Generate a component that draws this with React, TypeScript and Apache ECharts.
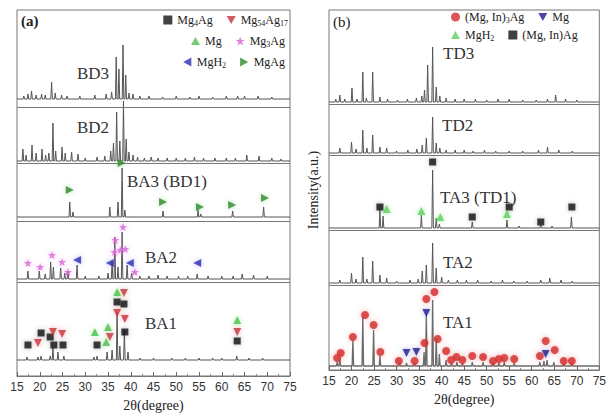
import React, { useEffect, useRef } from "react";
import * as echarts from "echarts";

// ---------- DATA (2θ in degrees, peak intensity in arbitrary units) ----------
const leftTraceNames = ["BD3", "BD2", "BA3 (BD1)", "BA2", "BA1"];
const rightTraceNames = ["TD3", "TD2", "TA3 (TD1)", "TA2", "TA1"];

const bd3Peaks = [[16.5,3],[17.4,5],[18.2,8],[19.2,4],[20.4,5],[21.2,4],[22.6,17],[23.4,6],[24.8,4],[26,3],[28.8,3],[32.1,4],[34.6,5],[35.8,7],[36.8,42],[37.4,30],[38.3,54],[38.9,24],[39.6,6],[40.5,5],[42,3],[44,3],[47,2],[50,3],[53,2],[55,3],[58,2],[61,3],[63.5,3],[65,3],[68,3],[71,2]];
const bd2Peaks = [[16.3,12],[17.0,6],[18.3,16],[19.2,8],[20.5,12],[21.3,6],[22.0,8],[22.9,38],[23.5,10],[24.9,14],[25.6,8],[27.0,9],[28.4,7],[30.0,3],[32.6,4],[34.3,5],[35.6,10],[36.2,18],[36.9,49],[37.6,20],[38.4,60],[39.0,22],[39.6,9],[40.5,6],[41.5,4],[43,3],[44.5,4],[46,3],[48,3],[50,3],[52,3],[54,4],[56,3],[58.5,3],[61,3],[63,3],[65.5,6],[68.2,5],[71,3],[73,2]];
const ba3Peaks = [[26.6,15],[27.3,5],[35.4,10],[37.2,15],[38.1,49],[38.7,7],[47.1,6],[54.8,7],[55.4,3],[62.4,6],[69.2,10]];
const ba2Peaks = [[17.4,8],[19.9,8],[21.2,5],[22.4,17],[23.0,12],[24.6,11],[25.5,6],[26.2,8],[28.2,14],[30,3],[33,3],[35.0,6],[35.9,17],[36.5,42],[37.2,12],[38.1,47],[39.2,14],[40.2,6],[42,3],[44,3],[46,4],[48,3],[50.5,3],[52.5,3],[54.6,5],[57,3],[60,3],[62.5,3],[64.5,5],[67,4],[70,3]];
const ba1Peaks = [[17.2,3],[19.6,3],[20.3,4],[22.3,4],[22.9,12],[24.0,8],[25.3,4],[31.9,3],[32.6,4],[34.8,8],[35.9,10],[37.0,48],[37.6,14],[38.6,30],[39.4,8],[42,2],[45,2],[49,2],[52,2],[55,2],[58,2],[60,2],[63.3,4],[66,2],[69,2]];

const td3Peaks = [[16.5,3],[17.4,7],[18.5,3],[20.1,14],[21.2,3],[22.5,30],[23.3,4],[24.7,30],[26.3,5],[28,3],[30.2,2],[32.4,3],[34.4,4],[35.6,6],[36.2,12],[36.9,37],[38.0,55],[38.8,15],[39.6,6],[41,4],[43,3],[45,3],[47.5,3],[50,2],[52.5,3],[55,3],[58,2],[61,2],[63.5,3],[65.3,7],[67.5,3],[70,2]];
const td2Peaks = [[17.4,5],[20.0,11],[21.0,4],[22.5,23],[23.4,5],[24.7,18],[26.3,6],[27.8,5],[30,2],[32.5,3],[34.5,4],[35.7,8],[36.6,15],[38.0,36],[38.8,10],[39.6,5],[41,3],[43,3],[45,3],[47,2],[49.5,3],[52,2],[55,2],[58,2],[61.5,3],[63.5,6],[66,3],[69,2]];
const ta3Peaks = [[26.3,18],[27.0,12],[35.5,13],[38.0,58],[38.8,10],[39.5,4],[46.8,6],[54.5,8],[57.2,2],[62.0,3],[64.5,2],[68.8,11]];
const ta2Peaks = [[17.4,3],[20.0,10],[21.0,4],[22.5,26],[23.4,4],[24.7,22],[26.3,8],[27.8,5],[30,2],[33,3],[34.8,4],[35.7,12],[36.6,18],[38.0,40],[38.8,15],[40.0,6],[41.5,3],[43.5,3],[45.5,3],[48,3],[51,2],[53.5,3],[56,2],[59,2],[62,3],[64,5],[66.5,3],[69,2]];
const ta1Peaks = [[16.8,4],[17.4,8],[20.3,26],[22.5,50],[24.9,36],[26.3,10],[30.7,3],[32.2,3],[34.0,3],[36.1,14],[36.6,52],[38.0,66],[38.8,28],[39.5,12],[41.0,6],[42.2,3],[43.4,4],[44.6,3],[46.8,4],[49.2,4],[51.4,3],[52.7,3],[53.9,4],[56.1,3],[61.8,4],[62.7,5],[63.4,6],[64.9,4],[67.1,3],[68.9,3]];

// phase markers: [2θ, height above the trace baseline]
const ba1Mg4Ag = [[17.4,15],[20.3,27],[22.3,23],[23.1,15],[25.1,15],[32.6,15],[37.0,58],[38.5,56],[38.7,28],[63.4,19]];
const ba1Mg54Ag17 = [[19.6,17],[22.9,28],[24.9,26],[35.4,23],[37.0,47],[38.5,67],[38.7,41],[63.4,28]];
const ba1Mg = [[32.1,28],[34.6,18],[35.0,33],[37.0,68],[63.4,40]];
const ba2Mg3Ag = [[17.4,16],[20.1,12],[22.7,24],[24.9,17],[26.2,7],[36.4,27],[36.6,39],[37.7,29],[38.3,52],[38.8,30],[40.9,7]];
const ba2MgH2 = [[28.2,19],[35.4,16],[39.8,16],[54.6,16]];
const ba3MgAg = [[26.6,27],[38.0,54],[47.1,15],[55.2,10],[62.3,12],[69.5,19]];

const ta1MgIn3Ag = [[16.8,8],[17.6,13],[20.3,29],[23.0,51],[24.9,41],[26.4,14],[30.5,5],[34.0,5],[36.2,23],[36.6,67],[38.4,74],[39.1,27],[41.0,15],[42.1,6],[43.3,9],[44.6,6],[46.8,10],[49.2,9],[51.4,5],[52.7,7],[53.9,8],[56.1,7],[61.8,10],[63.1,25],[65.1,16],[67.1,5],[68.9,5]];
const ta1Mg = [[32.2,13],[34.4,14],[36.6,53],[63.1,12]];
const ta3MgH2 = [[27.8,19],[35.5,17],[39.7,11],[54.5,14]];
const ta3MgInAg = [[26.3,21],[38.0,66],[46.8,11],[55.0,21],[62.0,6],[68.9,21]];

const xTicks = [15, 75, 5]; // min, max, interval

// ---------- LAYOUT ----------
const leftOffsets = [277, 215, 159, 97, 16];
const leftSeps = [269, 213, 155, 94];
const rightOffsets = [268, 217, 142, 87, 4];
const rightSeps = [266, 215, 140, 85];

function spectrum(peaks: number[][], offset: number) {
  const pts: number[][] = [[xTicks[0], offset]];
  const sorted = [...peaks].sort((a, b) => a[0] - b[0]);
  for (const [x, h] of sorted) {
    pts.push([x - 0.17, offset], [x, offset + h], [x + 0.17, offset]);
  }
  pts.push([xTicks[1], offset]);
  return pts;
}
const shift = (m: number[][], offset: number) => m.map(([x, h]) => [x, offset + h]);

const SERIF = "Liberation Serif";

const legendMap: Record<string, string> = {
  "Mg4Ag": "Mg{s|4}Ag",
  "Mg54Ag17": "Mg{s|54}Ag{s|17}",
  "Mg": "Mg",
  "Mg3Ag": "Mg{s|3}Ag",
  "MgH2": "MgH{s|2}",
  "MgAg": "MgAg",
  "(Mg, In)3Ag": "(Mg, In){s|3}Ag",
  "Mg ": "Mg",
  "MgH2 ": "MgH{s|2}",
  "(Mg, In)Ag": "(Mg, In)Ag",
};

const DOWN = "path://M0,0 L10,0 L5,9 Z";
const UP = "path://M5,0 L10,9 L0,9 Z";
const LEFT = "path://M9,0 L9,10 L0,5 Z";
const RIGHT = "path://M0,0 L0,10 L9,5 Z";
const STAR = "path://M5,0 L6.2,3.6 L10,3.8 L7,6.1 L8.1,10 L5,7.8 L1.9,10 L3,6.1 L0,3.8 L3.8,3.6 Z";

function scatter(name: string, data: number[][], axis: number, symbol: string, color: string, glow: string, size = 8) {
  return {
    type: "scatter",
    name,
    xAxisIndex: axis,
    yAxisIndex: axis,
    symbol,
    symbolSize: size,
    data,
    z: 5,
    itemStyle: { color, shadowBlur: 5, shadowColor: glow },
  };
}

export default function App() {
  const ref = useRef<HTMLDivElement>(null);
  useEffect(() => {
    if (!ref.current) return;
    const chart = echarts.init(ref.current, null, { renderer: "svg" });
    const leftPeaks = [bd3Peaks, bd2Peaks, ba3Peaks, ba2Peaks, ba1Peaks];
    const rightPeaks = [td3Peaks, td2Peaks, ta3Peaks, ta2Peaks, ta1Peaks];
    const lineSeries: any[] = [];
    leftPeaks.forEach((p, i) => {
      lineSeries.push({
        type: "line", name: leftTraceNames[i], xAxisIndex: 0, yAxisIndex: 0,
        data: spectrum(p, leftOffsets[i]), showSymbol: false, symbol: "none",
        lineStyle: { color: "#555", width: 1 },
        ...(i === 0 ? { markLine: { silent: true, symbol: "none", label: { show: false }, lineStyle: { color: "#777", width: 1, type: "solid" }, data: leftSeps.map((v) => ({ yAxis: v })) } } : {}),
      });
    });
    rightPeaks.forEach((p, i) => {
      lineSeries.push({
        type: "line", name: rightTraceNames[i], xAxisIndex: 1, yAxisIndex: 1,
        data: spectrum(p, rightOffsets[i]), showSymbol: false, symbol: "none",
        lineStyle: { color: i === 4 ? "#6b6b6b" : "#555", width: i === 4 ? 1.3 : 1 },
        ...(i === 0 ? { markLine: { silent: true, symbol: "none", label: { show: false }, lineStyle: { color: "#777", width: 1, type: "solid" }, data: rightSeps.map((v) => ({ yAxis: v })) } } : {}),
      });
    });

    const scatterSeries = [
      scatter("Mg4Ag", shift(ba1Mg4Ag, leftOffsets[4]), 0, "rect", "#111", "rgba(0,0,0,0.35)", 7),
      scatter("Mg54Ag17", shift(ba1Mg54Ag17, leftOffsets[4]), 0, DOWN, "#c8323a", "rgba(220,80,90,0.6)"),
      scatter("Mg", shift(ba1Mg, leftOffsets[4]), 0, UP, "#4cc24c", "rgba(120,230,120,0.8)"),
      scatter("Mg3Ag", shift(ba2Mg3Ag, leftOffsets[3]), 0, STAR, "#d865d8", "rgba(240,140,240,0.8)"),
      scatter("MgH2", shift(ba2MgH2, leftOffsets[3]), 0, LEFT, "#2a2ab4", "rgba(100,100,230,0.6)"),
      scatter("MgAg", shift(ba3MgAg, leftOffsets[2]), 0, RIGHT, "#2a8a2a", "rgba(90,180,90,0.6)"),
      scatter("(Mg, In)3Ag", shift(ta1MgIn3Ag, rightOffsets[4]), 1, "circle", "#d42a2a", "rgba(230,80,80,0.6)"),
      scatter("Mg ", shift(ta1Mg, rightOffsets[4]), 1, DOWN, "#1c1c8c", "rgba(80,80,200,0.6)"),
      scatter("MgH2 ", shift(ta3MgH2, rightOffsets[2]), 1, UP, "#5fcf5f", "rgba(120,230,120,0.9)"),
      scatter("(Mg, In)Ag", shift(ta3MgInAg, rightOffsets[2]), 1, "rect", "#111", "rgba(0,0,0,0.35)", 7),
    ];

    const legendText = {
      fontFamily: SERIF, fontSize: 12, color: "#222",
      rich: { s: { fontFamily: SERIF, fontSize: 8, color: "#222", padding: [6, 0, 0, 0] } },
    };
    const mkLegend = (data: string[], pos: any) => ({
      data, ...pos, orient: "horizontal", padding: 0, itemGap: 14, itemWidth: 9, itemHeight: 9,
      textStyle: legendText, formatter: (n: string) => legendMap[n] ?? n, selectedMode: false,
    });

    const xAxisBase = (gi: number) => ({
      type: "value", gridIndex: gi, min: xTicks[0], max: xTicks[1], interval: xTicks[2],
      axisLine: { show: true, lineStyle: { color: "#777" } },
      axisTick: { show: true, inside: true, length: 4, lineStyle: { color: "#666" } },
      minorTick: { show: true, splitNumber: 2, length: 2, lineStyle: { color: "#888" } },
      splitLine: { show: false },
      axisLabel: { fontFamily: "Liberation Sans", fontSize: 12, color: "#333", margin: 5 },
      name: "2θ(degree)", nameLocation: "middle", nameGap: 22,
      nameTextStyle: { fontFamily: SERIF, fontSize: 14, color: "#222" },
    });

    const labelText = (text: string, x: number, y: number) => ({
      type: "text", x, y,
      style: { text, fontFamily: SERIF, fontSize: 17, fill: "#333", verticalAlign: "middle" },
    });

    chart.setOption({
      animation: false,
      backgroundColor: "#fff",
      grid: [
        { left: 17, top: 10, width: 273, height: 366, show: true, borderColor: "#777", borderWidth: 1 },
        { left: 329, top: 10, width: 272, height: 360, show: true, borderColor: "#777", borderWidth: 1 },
      ],
      xAxis: [xAxisBase(0), xAxisBase(1)],
      yAxis: [
        { type: "value", gridIndex: 0, min: 0, max: 366, show: false },
        {
          type: "value", gridIndex: 1, min: 0, max: 360,
          axisLine: { show: false }, axisTick: { show: false }, axisLabel: { show: false }, splitLine: { show: false },
          name: "Intensity(a.u.)", nameLocation: "middle", nameGap: 9,
          nameTextStyle: { fontFamily: SERIF, fontSize: 14, color: "#222" },
        },
      ],
      legend: [
        mkLegend(["Mg4Ag", "Mg54Ag17"], { right: 321, top: 14 }),
        mkLegend(["Mg", "Mg3Ag"], { right: 324, top: 35 }),
        mkLegend(["MgH2", "MgAg"], { right: 324, top: 56 }),
        mkLegend(["(Mg, In)3Ag", "Mg "], { left: 451, top: 11 }),
        mkLegend(["MgH2 ", "(Mg, In)Ag"], { left: 451, top: 29 }),
      ],
      graphic: [
        { type: "text", x: 21, y: 21, style: { text: "(a)", fontFamily: SERIF, fontSize: 15, fontWeight: "bold", fill: "#222", verticalAlign: "middle" } },
        { type: "text", x: 333, y: 22, style: { text: "(b)", fontFamily: SERIF, fontSize: 15, fill: "#222", verticalAlign: "middle" } },
        labelText(leftTraceNames[0], 77, 73),
        labelText(leftTraceNames[1], 77, 127),
        labelText(leftTraceNames[2], 127, 181),
        labelText(leftTraceNames[3], 145, 257),
        labelText(leftTraceNames[4], 145, 323),
        labelText(rightTraceNames[0], 443, 53),
        labelText(rightTraceNames[1], 442, 125),
        labelText(rightTraceNames[2], 440, 197),
        labelText(rightTraceNames[3], 443, 262),
        labelText(rightTraceNames[4], 443, 322),
      ],
      series: [...lineSeries, ...scatterSeries],
    });
    return () => chart.dispose();
  }, []);
  return <div ref={ref} style={{ position: "absolute", left: 0, top: 0, width: 609, height: 419, background: "#fff" }} />;
}
